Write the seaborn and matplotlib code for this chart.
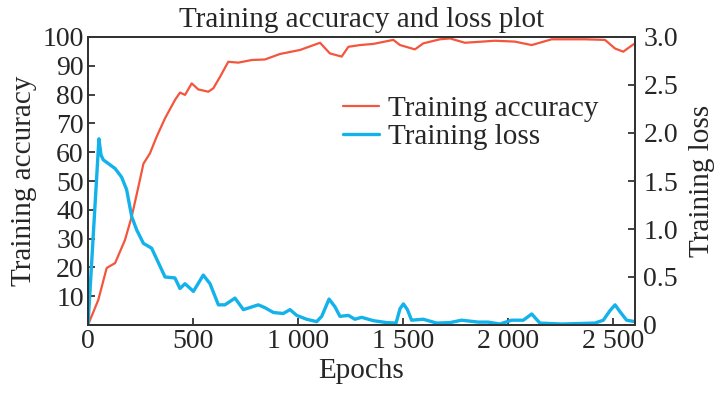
import numpy as np
import pandas as pd
import seaborn as sns
import matplotlib.pyplot as plt
from matplotlib.ticker import FuncFormatter

# values
acc_epoch = [0, 49, 89, 129, 176, 208, 240, 264, 295, 327, 367, 414, 438, 462, 494,
             525, 573, 597, 629, 668, 716, 779, 843, 914, 1010, 1105, 1152, 1208,
             1240, 1295, 1359, 1454, 1486, 1557, 1597, 1676, 1724, 1795, 1938,
             2033, 2113, 2208, 2367, 2462, 2510, 2549, 2581, 2605]
acc_value = [0, 8.7, 19.8, 21.5, 29.5, 37.6, 48, 56, 59.6, 65.4, 71.8, 78.1, 80.7,
             79.9, 83.9, 81.8, 81, 82.2, 86.2, 91.4, 91.1, 92, 92.2, 94.1, 95.5,
             98, 94.3, 93.2, 96.6, 97.2, 97.6, 99, 97.2, 95.7, 97.8, 99.2, 99.5,
             98, 98.7, 98.4, 97.2, 99.2, 99.2, 99, 96, 94.9, 96.6, 97.8]

loss_epoch = [0, 52, 62, 73, 129, 160, 184, 208, 232, 264, 303, 367, 414, 438, 462,
              502, 549, 581, 621, 652, 700, 740, 811, 843, 883, 930, 962, 994,
              1041, 1089, 1113, 1148, 1176, 1200, 1240, 1271, 1303, 1359, 1422,
              1467, 1486, 1502, 1521, 1541, 1597, 1660, 1724, 1779, 1859, 1906,
              1962, 2017, 2073, 2113, 2152, 2256, 2414, 2454, 2486, 2510, 2533,
              2565, 2605]
loss_value = [0, 1.94, 1.77, 1.72, 1.63, 1.54, 1.41, 1.13, 0.99, 0.85, 0.80, 0.50,
              0.49, 0.38, 0.43, 0.35, 0.52, 0.43, 0.21, 0.21, 0.28, 0.16, 0.21,
              0.18, 0.13, 0.12, 0.16, 0.10, 0.06, 0.035, 0.09, 0.27, 0.19, 0.09,
              0.10, 0.06, 0.08, 0.045, 0.025, 0.02, 0.17, 0.22, 0.16, 0.05, 0.06,
              0.02, 0.025, 0.05, 0.03, 0.03, 0.01, 0.05, 0.05, 0.115, 0.02, 0.01,
              0.02, 0.05, 0.15, 0.21, 0.14, 0.05, 0.035]

x_ticks = [0, 500, 1000, 1500, 2000, 2500]
acc_ticks = [10, 20, 30, 40, 50, 60, 70, 80, 90, 100]
loss_ticks = [0, 0.5, 1.0, 1.5, 2.0, 2.5, 3.0]

acc_df = pd.DataFrame({"epoch": acc_epoch, "acc": acc_value})
loss_df = pd.DataFrame({"epoch": loss_epoch, "loss": loss_value})

sns.set_style("ticks")
plt.rcParams["font.family"] = ["Liberation Serif", "DejaVu Serif"]

red = "#f4553c"
blue = "#14b2ea"

fig = plt.figure(figsize=(7.21, 3.95), dpi=100)
ax = fig.add_axes([88 / 721, 1 - 325 / 395, 547 / 721, 288 / 395])
ax2 = ax.twinx()

sns.lineplot(data=acc_df, x="epoch", y="acc", ax=ax, color=red, linewidth=1.6,
             label="Training accuracy", legend=False)
sns.lineplot(data=loss_df, x="epoch", y="loss", ax=ax2, color=blue, linewidth=2.4,
             label="Training loss", legend=False)

ax.set_xlim(0, 2605)
ax.set_ylim(0, 100)
ax2.set_ylim(0, 3.0)

ax.set_xticks(x_ticks)
ax.xaxis.set_major_formatter(FuncFormatter(lambda v, p: f"{int(v):,}".replace(",", " ")))
ax.set_yticks(acc_ticks)
ax2.set_yticks(loss_ticks)
ax2.yaxis.set_major_formatter(FuncFormatter(lambda v, p: "0" if v == 0 else f"{v:.1f}"))

fs = 20
lfs = 21
for a in (ax, ax2):
    a.tick_params(direction="in", length=5, width=1.3, labelsize=fs, pad=3, color="#333333")
    for s in a.spines.values():
        s.set_linewidth(1.4)
        s.set_color("#333333")
ax2.tick_params(axis="y", pad=6)

ax.set_xlabel("Epochs", fontsize=lfs, labelpad=3)
ax.set_ylabel("Training accuracy", fontsize=lfs, labelpad=4)
ax2.set_ylabel("Training loss", fontsize=lfs, labelpad=8)
ax.set_title("Training accuracy and loss plot", fontsize=lfs, pad=7)

h1, l1 = ax.get_legend_handles_labels()
h2, l2 = ax2.get_legend_handles_labels()
ax2.legend(h1 + h2, l1 + l2, loc="upper left", bbox_to_anchor=(0.466, 0.795),
           frameon=False, fontsize=lfs, handlelength=1.25, handletextpad=0.3,
           labelspacing=0.05, borderpad=0, borderaxespad=0)

fig.savefig("out.png", dpi=100)
